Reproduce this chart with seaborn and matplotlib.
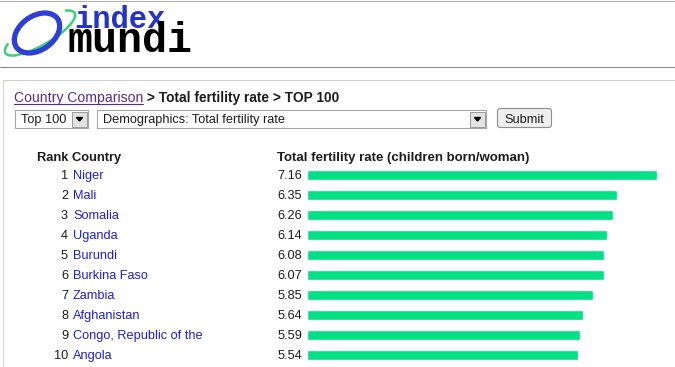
import matplotlib
matplotlib.use("Agg")
import matplotlib.pyplot as plt
import matplotlib.patches as mpatches
import matplotlib.transforms as mtransforms
import seaborn as sns
import pandas as pd

# data
ranks = [1, 2, 3, 4, 5, 6, 7, 8, 9, 10]
countries = ["Niger", "Mali", "Somalia", "Uganda", "Burundi", "Burkina Faso",
             "Zambia", "Afghanistan", "Congo, Republic of the", "Angola"]
fertility = [7.16, 6.35, 6.26, 6.14, 6.08, 6.07, 5.85, 5.64, 5.59, 5.54]

header_link = "Country Comparison"
header_rest = " > Total fertility rate > TOP 100"
col_left = "Rank Country"
col_right = "Total fertility rate (children born/woman)"
select_top = "Top 100"
select_field = "Demographics: Total fertility rate"
button_label = "Submit"

GREEN = "#00e084"
LINK = "#1f1fd8"
VISITED = "#5a2a8c"
TEXT = "#1c1c1c"
W, H = 675, 367

sns.set_style("white")
plt.rcParams["font.family"] = ["Liberation Sans", "DejaVu Sans"]

fig = plt.figure(figsize=(W / 100, H / 100), dpi=100)
fig.patch.set_facecolor("white")

# background axes in pixel coordinates (y down) for the page furniture
bg = fig.add_axes([0, 0, 1, 1])
bg.set_xlim(0, W)
bg.set_ylim(H, 0)
bg.axis("off")

# page lines
bg.plot([0, W], [0.5, 0.5], color="#b4b4b4", lw=0.8)
bg.plot([0, W], [67, 67], color="#8a8a8a", lw=0.8)
bg.plot([3, W], [79.5, 79.5], color="#cfcfcf", lw=0.8)
bg.plot([3, 3], [79.5, H], color="#d6d6d6", lw=0.8)

# logo
bg.add_patch(mpatches.Arc((40, 33), 80, 24, angle=-30, theta1=-12, theta2=192,
                          color="#3ccf78", lw=1.8))
bg.add_patch(mpatches.Ellipse((37, 33), 50, 34, angle=-35, fill=False,
                              edgecolor="#2d3fd8", lw=3.8))
bg.text(74, 28, "index", family="Liberation Mono", weight="bold", fontsize=22,
        color="#2233cc", va="baseline")
bg.text(68, 52, "mundi", family="Liberation Mono", weight="bold", fontsize=30,
        color="black", va="baseline")

# breadcrumb
link = bg.text(14, 102, header_link, fontsize=10.1, color=VISITED, va="baseline")
rest = bg.text(143, 102, header_rest, fontsize=9.9, weight="bold", color=TEXT,
               va="baseline")

# form controls
def select_box(x0, x1, label):
    bg.add_patch(mpatches.Rectangle((x0, 110), x1 - x0, 18, facecolor="white",
                                    edgecolor="#a6a6a6", lw=0.8))
    bg.add_patch(mpatches.Rectangle((x1 - 16, 111.5), 15, 15, facecolor="#e2e2e2",
                                    edgecolor="#9a9a9a", lw=0.7))
    bg.add_patch(mpatches.Polygon([[x1 - 11.5, 117.5], [x1 - 5.5, 117.5],
                                   [x1 - 8.5, 121]], closed=True, color="black"))
    bg.text(x0 + 6, 123.5, label, fontsize=9.2, color=TEXT, va="baseline")

select_box(15, 88, select_top)
select_box(97, 486, select_field)
bg.add_patch(mpatches.FancyBboxPatch((499, 110), 51, 16,
                                     boxstyle="round,pad=1.5,rounding_size=3",
                                     facecolor="#efefef", edgecolor="#8e8e8e", lw=0.8))
bg.text(524.5, 123, button_label, fontsize=9.2, color=TEXT, ha="center", va="baseline")

# column headers
bg.text(37, 161, col_left, fontsize=9.3, weight="bold", color=TEXT, va="baseline")
bg.text(277, 161, col_right, fontsize=9.5, weight="bold", color=TEXT, va="baseline")

# bars
px_per_unit = 350 / 7.16
ax = fig.add_axes([307 / W, (H - 365) / H, (W - 307) / W, 200 / H])
df = pd.DataFrame({"country": countries, "rate": fertility})
sns.barplot(data=df, x="rate", y="country", orient="h", color=GREEN,
            saturation=1, width=0.5, ax=ax)
ax.set_xlim(0, (W - 307) / px_per_unit)
ax.set_ylim(len(countries) - 0.5, -0.5)
ax.axis("off")

# row texts: x in page pixels, y in row units
trans = mtransforms.blended_transform_factory(bg.transData, ax.transData)
name_texts = []
for i, (r, c, v) in enumerate(zip(ranks, countries, fertility)):
    ax.text(68, i + 0.22, str(r), transform=trans, fontsize=9.2, color=TEXT,
            ha="right", va="baseline")
    t = ax.text(73, i + 0.22, c, transform=trans, fontsize=9.2, color=LINK,
                ha="left", va="baseline")
    name_texts.append(t)
    ax.text(302, i + 0.22, f"{v:.2f}", transform=trans, fontsize=9.2, color=TEXT,
            ha="right", va="baseline")

# underlines for the links
fig.canvas.draw()
inv = bg.transData.inverted()
lb = link.get_window_extent()
(lx0, _), (lx1, _) = inv.transform([[lb.x0, lb.y0], [lb.x1, lb.y0]])
bg.plot([lx0, lx1], [104, 104], color=VISITED, lw=0.8)
rest.set_x(lx1)
for i, t in enumerate(name_texts):
    bb = t.get_window_extent()
    (x0, _), (x1, _) = inv.transform([[bb.x0, bb.y0], [bb.x1, bb.y0]])
    ax.plot([x0, x1], [i + 0.3, i + 0.3], transform=trans, color=LINK, lw=0.8)

fig.savefig("out.png", dpi=100)
